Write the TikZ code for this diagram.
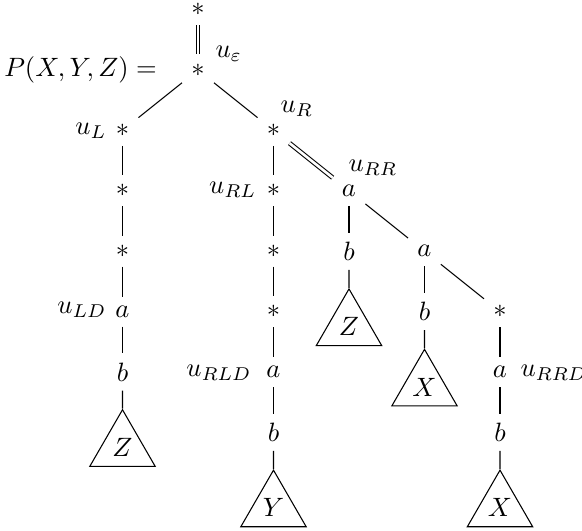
\documentclass[tikz,border=0pt]{standalone}
\usepackage{amssymb}
\usepackage{tikz}
\usetikzlibrary{shapes.geometric}

\begin{document}
\begin{tikzpicture}[
  tri/.style={draw, regular polygon, regular polygon sides=3, minimum size=1cm, inner sep=0pt},
  lab/.style={inner sep=0pt},
  dbl/.style={double, double distance=1pt}]
\useasboundingbox (-2.6225,0.927) rectangle (5.086,-6.106);
% spine
\node (nTop) at (0,0.8) {$*$};
\node (nE) at (0,0) {$*$};
\node[lab, anchor=east] (eqP) at (-0.54,0) {$P(X,Y,Z) =$};
\node[lab, anchor=base west] (uE) at (0.225,0.166) {$u_\varepsilon$};
% left branch
\node (nL) at (-1,-0.8) {$*$};
\node (nL1) at (-1,-1.6) {$*$};
\node (nL2) at (-1,-2.4) {$*$};
\node (nLD) at (-1,-3.2) {$a$};
\node (nLDb) at (-1,-4.0) {$b$};
\node[tri] (tLZ) at (-1,-5.0) {$Z$};
\node[lab, anchor=base east] (uL) at (-1.205,-0.85) {$u_L$};
\node[lab, anchor=base east] (uLD) at (-1.205,-3.22) {$u_{LD}$};
% right branch
\node (nR) at (1,-0.8) {$*$};
\node (nRL) at (1,-1.6) {$*$};
\node (nRL1) at (1,-2.4) {$*$};
\node (nRL2) at (1,-3.2) {$*$};
\node (nRLD) at (1,-4.0) {$a$};
\node (nRLDb) at (1,-4.8) {$b$};
\node[tri] (tY) at (1,-5.8) {$Y$};
\node[lab, anchor=base west] (uR) at (1.086,-0.56) {$u_R$};
\node[lab, anchor=base east] (uRL) at (0.78,-1.64) {$u_{RL}$};
\node[lab, anchor=base east] (uRLD) at (0.715,-4.06) {$u_{RLD}$};
% right-right branch
\node (nRR) at (2,-1.6) {$a$};
\node (nRRb) at (2,-2.4) {$b$};
\node[tri] (tRZ) at (2,-3.4) {$Z$};
\node (nRRR) at (3,-2.4) {$a$};
\node (nRRRb) at (3,-3.2) {$b$};
\node[tri] (tX1) at (3,-4.2) {$X$};
\node (nRRRR) at (4,-3.2) {$*$};
\node (nRRD) at (4,-4.0) {$a$};
\node (nRRDb) at (4,-4.8) {$b$};
\node[tri] (tX2) at (4,-5.8) {$X$};
\node[lab, anchor=base west] (uRR) at (1.987,-1.35) {$u_{RR}$};
\node[lab, anchor=base west] (uRRD) at (4.265,-4.06) {$u_{RRD}$};
% edges
\draw[dbl] (nTop) -- (nE);
\draw (nE) -- (nL);
\draw (nE) -- (nR);
\draw (nL) -- (nL1);
\draw (nL1) -- (nL2);
\draw (nL2) -- (nLD);
\draw (nLD) -- (nLDb);
\draw (nLDb) -- (tLZ);
\draw (nR) -- (nRL);
\draw (nRL) -- (nRL1);
\draw (nRL1) -- (nRL2);
\draw (nRL2) -- (nRLD);
\draw (nRLD) -- (nRLDb);
\draw (nRLDb) -- (tY);
\draw[dbl] (nR) -- (nRR);
\draw (nRR) -- (nRRb);
\draw (nRRb) -- (tRZ);
\draw (nRR) -- (nRRR);
\draw (nRRR) -- (nRRRb);
\draw (nRRRb) -- (tX1);
\draw (nRRR) -- (nRRRR);
\draw (nRRRR) -- (nRRD);
\draw (nRRD) -- (nRRDb);
\draw (nRRDb) -- (tX2);
\end{tikzpicture}
\end{document}
